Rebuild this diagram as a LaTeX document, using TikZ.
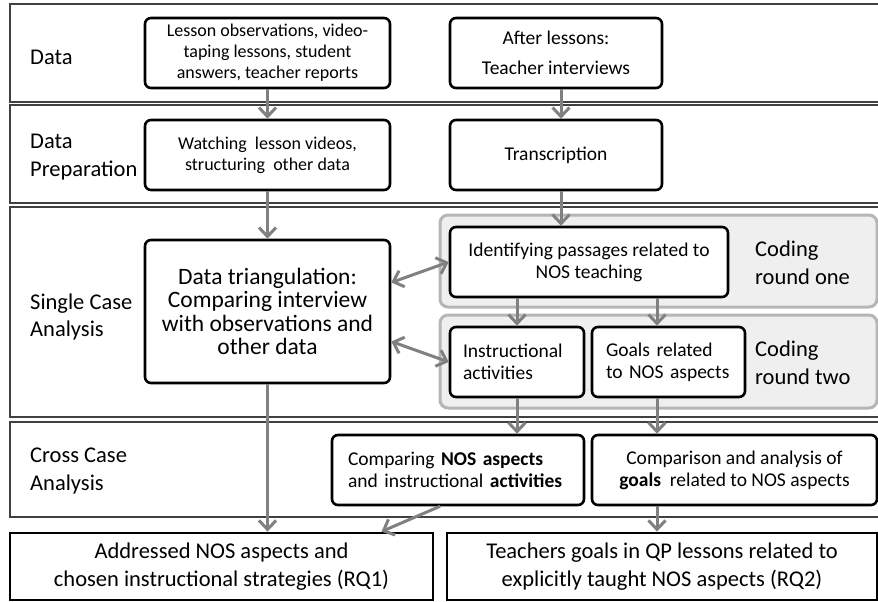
\documentclass[tikz,border=0pt]{standalone}
\usepackage{fontspec}
\setmainfont{Carlito}
\usepackage{tikz}
\usetikzlibrary{arrows.meta,positioning,calc}

\definecolor{arrowgray}{RGB}{128,128,128}
\definecolor{codefill}{RGB}{239,239,239}
\definecolor{codeline}{RGB}{182,182,182}
\newcommand{\fssmall}{\fontsize{18}{21}\selectfont}
\newcommand{\fsmid}{\fontsize{19.5}{22}\selectfont}
\newcommand{\fstri}{\fontsize{23.5}{23.5}\selectfont}
\newcommand{\fsbig}{\fontsize{22.5}{27.5}\selectfont}

\begin{document}
\begin{tikzpicture}[->, >={Straight Barb[length=9pt,width=17pt]}, x=1pt, y=-1pt, node distance=102pt]
\tikzstyle{every edge}=[draw=arrowgray,line width=3pt]
\tikzstyle{band}=[draw=black!75,line width=1.3pt,minimum width=870pt]
\tikzstyle{box}=[draw=black,fill=white,line width=2.6pt,rounded corners=6pt,inner sep=0pt,align=center,minimum height=70pt]
\tikzstyle{result}=[draw=black,fill=white,line width=2.8pt,inner sep=0pt,align=center,minimum height=67pt,font=\fsbig]
\tikzstyle{coding}=[fill=codefill,draw=codeline,line width=3pt,rounded corners=8pt,minimum width=437pt]
\tikzstyle{rowlabel}=[anchor=west,align=left,inner sep=0pt,font=\fsbig]
\useasboundingbox (0,0) rectangle (878,602);

% rows of the analysis
\node[band,minimum height=98pt]     (R1) at (445,53)    {};
\node[band,minimum height=98pt]     (R2) at (445,154)   {};
\node[band,minimum height=210pt]    (R3) at (445,312)   {};
\node[band,minimum height=95pt]     (R4) at (445,469.5) {};
\node[rowlabel] (S1) at (30,57)  {Data};
\node[rowlabel] (S2) at (30,157) {Data\\Preparation};
\node[rowlabel] (S3) at (30,317) {Single Case\\Analysis};
\node[rowlabel] (S4) at (30,471) {Cross Case\\Analysis};

% coding rounds
\node[coding,minimum height=92pt]   (P1) at (658.5,261)   {};
\node[coding,minimum height=93pt]   (P2) at (658.5,361.5) {};
\node[rowlabel] (Q1) at (755,263) {Coding\\round one};
\node[rowlabel] (Q2) at (755,363) {Coding\\round two};

\node[box,minimum width=245pt,font=\fssmall]    (A) at (267.5,53) {Lesson observations, video-\\taping lessons, student\\answers, teacher reports};
\node[box,minimum width=212pt,font=\fsmid]      (B) at (556,53)   {After lessons:\\[8pt]Teacher interviews};
\node[box,minimum width=245pt,font=\fssmall]    (C)[below of=A]   {Watching\ \ lesson videos,\\structuring\ \ other data};
\node[box,minimum width=212pt,font=\fsmid]      (D)[below of=B]   {Transcription};
\node[box,minimum width=245pt,minimum height=143pt,font=\fstri] (E) at (267.5,311.5) {Data triangulation:\\Comparing interview\\with observations and\\other data};
\node[box,minimum width=278pt,font=\fsmid]      (F) at (589,262)  {Identifying passages related to\\NOS teaching};
\node[box,minimum width=134pt,text width=108pt,align=left,font=\fsmid] (G) at (517,362)   {Instructional\\activities};
\node[box,minimum width=153pt,text width=125pt,align=left,font=\fsmid] (H) at (668.5,362) {Goals related\\to NOS aspects};
\node[box,minimum width=252pt,text width=220pt,align=left,font=\fsmid] (I) at (458,470)   {Comparing \textbf{NOS aspects}\\and instructional \textbf{activities}};
\node[box,minimum width=285pt,font=\fsmid]      (J) at (734.5,470) {Comparison and analysis of\\\textbf{goals}\ \ related to NOS aspects};
\node[result,minimum width=423pt] (K) at (221.5,566.5) {Addressed NOS aspects and\\chosen instructional strategies (RQ1)};
\node[result,minimum width=430pt] (L) at (662,566.5)   {Teachers goals in QP lessons related to\\explicitly taught NOS aspects (RQ2)};

\coordinate (dx) at (561,0);
\coordinate (hx) at (657,0);
\path
(A) edge (C)
(dx |- B.south) edge (dx |- D.north)
(C) edge (E)
(dx |- D.south) edge (dx |- F.north)
([yshift=29pt]E.east)  edge[<->] (F.west)
([yshift=-30pt]E.east) edge[<->] (G.west)
(G.north |- F.south) edge (G.north)
(hx |- F.south) edge (hx |- H.north)
(G.south) edge (G.south |- I.north)
(hx |- H.south) edge (hx |- J.north)
(E.south) edge (E.south |- K.north)
([xshift=-18pt]I.south) edge ([xshift=160pt]K.north)
(hx |- J.south) edge (hx |- L.north);
\end{tikzpicture}
\end{document}
